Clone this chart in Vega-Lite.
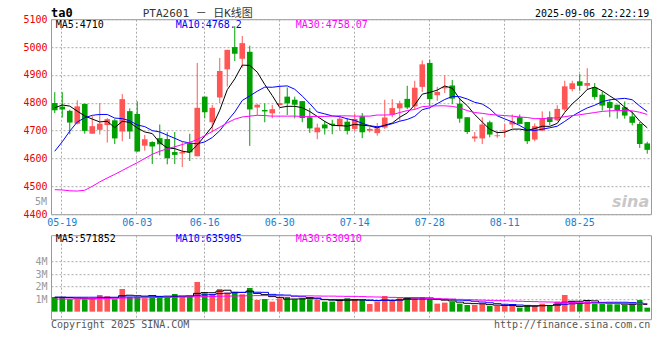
{
  "$schema": "https://vega.github.io/schema/vega-lite/v6.json",
  "background": "#ffffff",
  "padding": {"left": 22, "top": 5.2, "right": 5, "bottom": 2},
  "config": {
    "font": "DejaVu Sans Mono",
    "view": {"stroke": "#999999", "strokeWidth": 1},
    "axis": {"labelFont": "DejaVu Sans Mono", "labelFontSize": 10, "domain": false, "ticks": false, "gridColor": "#aaaaaa", "gridDash": [2, 2], "gridWidth": 1, "title": null, "labelOverlap": false},
    "text": {"font": "DejaVu Sans Mono", "fontSize": 10, "baseline": "middle"}
  },
  "datasets": {
    "k": [
      {"d":"05-16","o":4799,"h":4838,"l":4763,"c":4773,"v":1170000,"m5":4782,"m10":4626,"m30":4488,"vm5":1150000,"vm10":1150000,"vm30":1000000},
      {"d":"05-19","o":4786,"h":4838,"l":4747,"c":4776,"v":1170000,"m5":4792,"m10":4660,"m30":4487,"vm5":1150000,"vm10":1150000,"vm30":1010000},
      {"d":"05-20","o":4771,"h":4775,"l":4687,"c":4729,"v":990000,"m5":4788,"m10":4698,"m30":4484,"vm5":1120000,"vm10":1150000,"vm30":1010000},
      {"d":"05-21","o":4725,"h":4809,"l":4722,"c":4787,"v":990000,"m5":4770,"m10":4731,"m30":4483,"vm5":1080000,"vm10":1150000,"vm30":1020000},
      {"d":"05-22","o":4796,"h":4797,"l":4689,"c":4699,"v":990000,"m5":4752.8,"m10":4746,"m30":4486,"vm5":1060000,"vm10":1150000,"vm30":1030000},
      {"d":"05-23","o":4689,"h":4752,"l":4688,"c":4716,"v":990000,"m5":4741.4,"m10":4755,"m30":4500,"vm5":1030000,"vm10":1150000,"vm30":1040000},
      {"d":"05-26","o":4703,"h":4799,"l":4686,"c":4725,"v":1330000,"m5":4731.2,"m10":4758,"m30":4516,"vm5":1060000,"vm10":1150000,"vm30":1050000},
      {"d":"05-27","o":4720,"h":4745,"l":4657,"c":4741,"v":1230000,"m5":4733.6,"m10":4758,"m30":4530,"vm5":1110000,"vm10":1150000,"vm30":1060000},
      {"d":"05-28","o":4737,"h":4742,"l":4652,"c":4672,"v":990000,"m5":4710.6,"m10":4745,"m30":4543,"vm5":1110000,"vm10":1150000,"vm30":1070000},
      {"d":"05-29","o":4697,"h":4831,"l":4662,"c":4813,"v":1810000,"m5":4733.4,"m10":4743.1,"m30":4557,"vm5":1270000,"vm10":1170000,"vm30":1080000},
      {"d":"05-30","o":4770,"h":4780,"l":4670,"c":4697,"v":1170000,"m5":4729.6,"m10":4735.5,"m30":4571,"vm5":1310000,"vm10":1170000,"vm30":1090000},
      {"d":"06-03","o":4760,"h":4805,"l":4624,"c":4625,"v":1170000,"m5":4709.6,"m10":4720.4,"m30":4585,"vm5":1270000,"vm10":1170000,"vm30":1100000},
      {"d":"06-04","o":4646,"h":4685,"l":4628,"c":4669,"v":1070000,"m5":4695.2,"m10":4714.4,"m30":4600,"vm5":1240000,"vm10":1170000,"vm30":1110000},
      {"d":"06-05","o":4659,"h":4662,"l":4580,"c":4643,"v":1170000,"m5":4689.4,"m10":4700,"m30":4615,"vm5":1280000,"vm10":1190000,"vm30":1120000},
      {"d":"06-06","o":4673,"h":4722,"l":4611,"c":4651,"v":1250000,"m5":4657,"m10":4695.2,"m30":4626,"vm5":1170000,"vm10":1220000,"vm30":1130000},
      {"d":"06-09","o":4670,"h":4694,"l":4579,"c":4601,"v":1170000,"m5":4637.8,"m10":4683.7,"m30":4635,"vm5":1170000,"vm10":1240000,"vm30":1140000},
      {"d":"06-10","o":4623,"h":4695,"l":4580,"c":4613,"v":1410000,"m5":4635.4,"m10":4672.5,"m30":4642,"vm5":1210000,"vm10":1240000,"vm30":1150000},
      {"d":"06-11","o":4618,"h":4658,"l":4569,"c":4623,"v":1170000,"m5":4626.2,"m10":4660.7,"m30":4650,"vm5":1230000,"vm10":1240000,"vm30":1160000},
      {"d":"06-12","o":4655,"h":4689,"l":4591,"c":4622,"v":1170000,"m5":4622,"m10":4655.7,"m30":4658,"vm5":1230000,"vm10":1260000,"vm30":1170000},
      {"d":"06-13","o":4608,"h":4943,"l":4608,"c":4782,"v":2370000,"m5":4648.2,"m10":4652.6,"m30":4668,"vm5":1460000,"vm10":1310000,"vm30":1190000},
      {"d":"06-16","o":4822,"h":4822,"l":4744,"c":4766,"v":1470000,"m5":4681.2,"m10":4659.5,"m30":4682,"vm5":1520000,"vm10":1340000,"vm30":1200000},
      {"d":"06-17","o":4730,"h":4792,"l":4694,"c":4782,"v":1390000,"m5":4715,"m10":4675.2,"m30":4697,"vm5":1510000,"vm10":1360000,"vm30":1210000},
      {"d":"06-18","o":4819,"h":4961,"l":4799,"c":4914,"v":1810000,"m5":4773.2,"m10":4699.7,"m30":4712,"vm5":1640000,"vm10":1440000,"vm30":1230000},
      {"d":"06-19","o":4920,"h":4990,"l":4858,"c":4990,"v":1520000,"m5":4846.8,"m10":4734.4,"m30":4728,"vm5":1710000,"vm10":1470000,"vm30":1240000},
      {"d":"06-20","o":5000,"h":5075,"l":4950,"c":4976,"v":1570000,"m5":4885.6,"m10":4766.9,"m30":4741,"vm5":1550000,"vm10":1510000,"vm30":1250000},
      {"d":"06-23","o":4958,"h":5040,"l":4926,"c":5014,"v":1390000,"m5":4935.2,"m10":4808.2,"m30":4749,"vm5":1540000,"vm10":1530000,"vm30":1260000},
      {"d":"06-24","o":4983,"h":5005,"l":4645,"c":4776,"v":1890000,"m5":4934,"m10":4824.5,"m30":4752,"vm5":1640000,"vm10":1580000,"vm30":1270000},
      {"d":"06-25","o":4783,"h":4795,"l":4756,"c":4793,"v":930000,"m5":4909.8,"m10":4841.5,"m30":4755,"vm5":1460000,"vm10":1550000,"vm30":1280000},
      {"d":"06-26","o":4774,"h":4798,"l":4730,"c":4769,"v":1010000,"m5":4865.6,"m10":4856.2,"m30":4754,"vm5":1360000,"vm10":1540000,"vm30":1280000},
      {"d":"06-27","o":4762,"h":4792,"l":4744,"c":4777,"v":800000,"m5":4825.8,"m10":4855.7,"m30":4752,"vm5":1200000,"vm10":1380000,"vm30":1280000},
      {"d":"06-30","o":4792,"h":4862,"l":4790,"c":4799,"v":1070000,"m5":4782.8,"m10":4859,"m30":4752,"vm5":1140000,"vm10":1340000,"vm30":1280000},
      {"d":"07-01","o":4822,"h":4855,"l":4756,"c":4798,"v":1170000,"m5":4787.2,"m10":4860.6,"m30":4752,"vm5":1000000,"vm10":1320000,"vm30":1270000},
      {"d":"07-02","o":4811,"h":4822,"l":4744,"c":4793,"v":990000,"m5":4787.2,"m10":4848.5,"m30":4752,"vm5":1010000,"vm10":1230000,"vm30":1270000},
      {"d":"07-03","o":4806,"h":4806,"l":4730,"c":4745,"v":1070000,"m5":4782.4,"m10":4824,"m30":4751,"vm5":1020000,"vm10":1190000,"vm30":1260000},
      {"d":"07-04","o":4748,"h":4781,"l":4692,"c":4708,"v":990000,"m5":4768.6,"m10":4797.2,"m30":4751,"vm5":1060000,"vm10":1130000,"vm30":1260000},
      {"d":"07-07","o":4694,"h":4725,"l":4669,"c":4711,"v":930000,"m5":4751,"m10":4766.9,"m30":4751,"vm5":1030000,"vm10":1090000,"vm30":1250000},
      {"d":"07-08","o":4722,"h":4735,"l":4686,"c":4708,"v":800000,"m5":4733,"m10":4760.1,"m30":4751,"vm5":960000,"vm10":980000,"vm30":1240000},
      {"d":"07-09","o":4725,"h":4739,"l":4687,"c":4720,"v":800000,"m5":4718.4,"m10":4752.8,"m30":4752,"vm5":920000,"vm10":960000,"vm30":1240000},
      {"d":"07-10","o":4716,"h":4754,"l":4700,"c":4743,"v":930000,"m5":4718,"m10":4750.2,"m30":4753,"vm5":890000,"vm10":960000,"vm30":1230000},
      {"d":"07-11","o":4732,"h":4745,"l":4686,"c":4699,"v":1070000,"m5":4716.2,"m10":4742.4,"m30":4753,"vm5":910000,"vm10":980000,"vm30":1220000},
      {"d":"07-14","o":4706,"h":4760,"l":4697,"c":4742,"v":990000,"m5":4722.4,"m10":4736.7,"m30":4752,"vm5":920000,"vm10":970000,"vm30":1220000},
      {"d":"07-15","o":4751,"h":4763,"l":4673,"c":4694,"v":930000,"m5":4719.6,"m10":4726.3,"m30":4752,"vm5":940000,"vm10":950000,"vm30":1200000},
      {"d":"07-16","o":4700,"h":4712,"l":4694,"c":4706,"v":610000,"m5":4716.8,"m10":4717.6,"m30":4752,"vm5":910000,"vm10":910000,"vm30":1180000},
      {"d":"07-17","o":4691,"h":4727,"l":4682,"c":4708,"v":800000,"m5":4709.8,"m10":4713.9,"m30":4756,"vm5":880000,"vm10":890000,"vm30":1170000},
      {"d":"07-18","o":4711,"h":4811,"l":4706,"c":4747,"v":1250000,"m5":4719.4,"m10":4717.8,"m30":4756,"vm5":920000,"vm10":910000,"vm30":1150000},
      {"d":"07-21","o":4758,"h":4813,"l":4748,"c":4781,"v":930000,"m5":4727.2,"m10":4724.8,"m30":4757,"vm5":900000,"vm10":910000,"vm30":1140000},
      {"d":"07-22","o":4780,"h":4807,"l":4736,"c":4798,"v":1070000,"m5":4748,"m10":4733.8,"m30":4765,"vm5":930000,"vm10":940000,"vm30":1130000},
      {"d":"07-23","o":4814,"h":4861,"l":4777,"c":4783,"v":1170000,"m5":4763.4,"m10":4740.1,"m30":4772,"vm5":1040000,"vm10":980000,"vm30":1120000},
      {"d":"07-24","o":4787,"h":4879,"l":4777,"c":4854,"v":1070000,"m5":4792.6,"m10":4751.2,"m30":4776,"vm5":1100000,"vm10":990000,"vm30":1100000},
      {"d":"07-25","o":4857,"h":4952,"l":4839,"c":4938,"v":1170000,"m5":4830.8,"m10":4775.1,"m30":4786,"vm5":1080000,"vm10":1000000,"vm30":1080000},
      {"d":"07-28","o":4943,"h":4955,"l":4789,"c":4813,"v":990000,"m5":4837.2,"m10":4782.2,"m30":4788,"vm5":1090000,"vm10":1000000,"vm30":1060000},
      {"d":"07-29","o":4827,"h":4857,"l":4807,"c":4839,"v":640000,"m5":4845.4,"m10":4796.7,"m30":4789,"vm5":1010000,"vm10":970000,"vm30":1040000},
      {"d":"07-30","o":4852,"h":4899,"l":4835,"c":4857,"v":720000,"m5":4860.2,"m10":4811.8,"m30":4789,"vm5":920000,"vm10":980000,"vm30":1020000},
      {"d":"07-31","o":4862,"h":4882,"l":4795,"c":4815,"v":800000,"m5":4852.4,"m10":4822.5,"m30":4787,"vm5":860000,"vm10":980000,"vm30":1000000},
      {"d":"08-01","o":4797,"h":4817,"l":4728,"c":4743,"v":640000,"m5":4813.4,"m10":4822.1,"m30":4782,"vm5":760000,"vm10":920000,"vm30":980000},
      {"d":"08-04","o":4748,"h":4748,"l":4688,"c":4695,"v":530000,"m5":4789.8,"m10":4813.5,"m30":4772,"vm5":670000,"vm10":880000,"vm30":960000},
      {"d":"08-05","o":4672,"h":4695,"l":4660,"c":4679,"v":530000,"m5":4757.8,"m10":4801.6,"m30":4765,"vm5":640000,"vm10":830000,"vm30":940000},
      {"d":"08-06","o":4672,"h":4748,"l":4652,"c":4722,"v":640000,"m5":4730.8,"m10":4795.5,"m30":4762,"vm5":630000,"vm10":770000,"vm30":920000},
      {"d":"08-07","o":4730,"h":4736,"l":4676,"c":4686,"v":450000,"m5":4705,"m10":4778.7,"m30":4758,"vm5":560000,"vm10":710000,"vm30":900000},
      {"d":"08-08","o":4680,"h":4698,"l":4674,"c":4683,"v":450000,"m5":4693,"m10":4753.2,"m30":4756,"vm5":520000,"vm10":640000,"vm30":880000},
      {"d":"08-11","o":4698,"h":4725,"l":4676,"c":4701,"v":450000,"m5":4694.2,"m10":4742,"m30":4754,"vm5":500000,"vm10":590000,"vm30":870000},
      {"d":"08-12","o":4722,"h":4758,"l":4710,"c":4734,"v":450000,"m5":4705.2,"m10":4731.5,"m30":4752,"vm5":490000,"vm10":570000,"vm30":850000},
      {"d":"08-13","o":4748,"h":4758,"l":4722,"c":4724,"v":320000,"m5":4705.6,"m10":4718.2,"m30":4749,"vm5":420000,"vm10":530000,"vm30":830000},
      {"d":"08-14","o":4731,"h":4731,"l":4652,"c":4662,"v":510000,"m5":4700.8,"m10":4702.9,"m30":4747,"vm5":440000,"vm10":500000,"vm30":810000},
      {"d":"08-15","o":4668,"h":4726,"l":4662,"c":4716,"v":450000,"m5":4707.4,"m10":4700.2,"m30":4743,"vm5":440000,"vm10":480000,"vm30":800000},
      {"d":"08-18","o":4700,"h":4769,"l":4698,"c":4743,"v":640000,"m5":4715.8,"m10":4705,"m30":4743,"vm5":470000,"vm10":490000,"vm30":780000},
      {"d":"08-19","o":4748,"h":4769,"l":4719,"c":4731,"v":530000,"m5":4715.2,"m10":4710.2,"m30":4745,"vm5":490000,"vm10":490000,"vm30":770000},
      {"d":"08-20","o":4737,"h":4791,"l":4734,"c":4778,"v":800000,"m5":4726,"m10":4715.8,"m30":4746,"vm5":590000,"vm10":510000,"vm30":750000},
      {"d":"08-21","o":4776,"h":4879,"l":4769,"c":4859,"v":1330000,"m5":4765.4,"m10":4733.1,"m30":4750,"vm5":750000,"vm10":590000,"vm30":740000},
      {"d":"08-22","o":4849,"h":4879,"l":4841,"c":4870,"v":850000,"m5":4796.2,"m10":4751.8,"m30":4754,"vm5":830000,"vm10":630000,"vm30":730000},
      {"d":"08-25","o":4877,"h":4903,"l":4843,"c":4861,"v":640000,"m5":4819.8,"m10":4767.8,"m30":4757,"vm5":830000,"vm10":650000,"vm30":720000},
      {"d":"08-26","o":4861,"h":4924,"l":4846,"c":4871,"v":850000,"m5":4847.8,"m10":4781.5,"m30":4761,"vm5":890000,"vm10":690000,"vm30":710000},
      {"d":"08-27","o":4855,"h":4871,"l":4811,"c":4821,"v":640000,"m5":4856.4,"m10":4791.2,"m30":4765,"vm5":860000,"vm10":720000,"vm30":690000},
      {"d":"08-28","o":4829,"h":4841,"l":4772,"c":4790,"v":640000,"m5":4842.6,"m10":4804,"m30":4769,"vm5":720000,"vm10":740000,"vm30":680000},
      {"d":"08-29","o":4803,"h":4811,"l":4748,"c":4781,"v":590000,"m5":4824.8,"m10":4810.5,"m30":4771,"vm5":670000,"vm10":750000,"vm30":670000},
      {"d":"09-01","o":4793,"h":4793,"l":4743,"c":4774,"v":590000,"m5":4807.4,"m10":4813.6,"m30":4772,"vm5":660000,"vm10":750000,"vm30":660000},
      {"d":"09-02","o":4784,"h":4805,"l":4743,"c":4754,"v":530000,"m5":4784,"m10":4815.9,"m30":4772,"vm5":600000,"vm10":750000,"vm30":650000},
      {"d":"09-03","o":4751,"h":4769,"l":4719,"c":4728,"v":530000,"m5":4765.4,"m10":4810.9,"m30":4771,"vm5":580000,"vm10":720000,"vm30":640000},
      {"d":"09-04","o":4724,"h":4731,"l":4638,"c":4652,"v":930000,"m5":4733.8,"m10":4788.2,"m30":4766,"vm5":630000,"vm10":680000,"vm30":640000},
      {"d":"09-05","o":4654,"h":4660,"l":4617,"c":4631,"v":320000,"m5":4710,"m10":4768.2,"m30":4758.07,"vm5":571852,"vm10":635905,"vm30":630910}
    ]
  },
  "bounds": "flush",
  "spacing": 21,
  "resolve": {"scale": {"y": "independent"}},
  "vconcat": [
    {
      "width": 600,
      "height": 195,
      "data": {"name": "k"},
      "encoding": {
        "x": {"field": "d", "type": "ordinal", "sort": null, "scale": {"paddingInner": 0, "paddingOuter": 0},
          "axis": {"values": ["05-19","06-03","06-16","06-30","07-14","07-28","08-11","08-25"], "labelAngle": 0, "labelColor": "#1a80d0", "labelPadding": 3, "grid": true, "bandPosition": 0.4, "title": null}}
      },
      "layer": [
        {"mark": {"type": "rule", "strokeWidth": 1},
         "encoding": {
           "y": {"field": "l", "type": "quantitative", "scale": {"domain": [4400, 5100], "nice": false, "zero": false},
             "axis": {"values": [4400,4500,4600,4700,4800,4900,5000,5100], "tickCount": 20, "format": "d", "labelColor": "#ee0000", "labelPadding": 4, "grid": true, "labelFlush": false, "labelOverlap": false, "title": null}},
           "y2": {"field": "h"},
           "color": {"condition": {"test": "datum.c > datum.o", "value": "#ff5555"}, "value": "#00a000"}}},
        {"mark": {"type": "bar", "width": {"band": 0.75}},
         "encoding": {
           "y": {"field": "o", "type": "quantitative"},
           "y2": {"field": "c"},
           "color": {"condition": {"test": "datum.c > datum.o", "value": "#ff5555"}, "value": "#00a000"}}},
        {"mark": {"type": "line", "color": "#000000", "strokeWidth": 1}, "encoding": {"y": {"field": "m5", "type": "quantitative"}}},
        {"mark": {"type": "line", "color": "#0000ff", "strokeWidth": 1}, "encoding": {"y": {"field": "m10", "type": "quantitative"}}},
        {"mark": {"type": "line", "color": "#ff00ff", "strokeWidth": 1}, "encoding": {"y": {"field": "m30", "type": "quantitative"}}},
        {"data": {"values": [{}]}, "mark": {"type": "text", "align": "left", "dx": 1, "color": "#000000"},
         "encoding": {"x": {"datum": "05-16"}, "y": {"datum": 5080}, "text": {"value": "MA5:4710"}}},
        {"data": {"values": [{}]}, "mark": {"type": "text", "align": "left", "dx": 1, "color": "#0000ff"},
         "encoding": {"x": {"datum": "06-10"}, "y": {"datum": 5080}, "text": {"value": "MA10:4768.2"}}},
        {"data": {"values": [{}]}, "mark": {"type": "text", "align": "left", "dx": 1, "color": "#ff00ff"},
         "encoding": {"x": {"datum": "07-02"}, "y": {"datum": 5080}, "text": {"value": "MA30:4758.07"}}},
        {"data": {"values": [{}]}, "mark": {"type": "text", "align": "left", "dx": -3.75, "fontSize": 12, "fontWeight": "bold", "color": "#000000"},
         "encoding": {"x": {"datum": "05-16"}, "y": {"datum": 5124}, "text": {"value": "ta0"}}},
        {"data": {"values": [{}]}, "mark": {"type": "text", "align": "left", "dx": -2, "fontSize": 11, "color": "#333333", "font": "DejaVu Sans Mono, Noto Sans CJK SC"},
         "encoding": {"x": {"datum": "06-04"}, "y": {"datum": 5120}, "text": {"value": "PTA2601 － 日K线图"}}},
        {"data": {"values": [{}]}, "mark": {"type": "text", "align": "right", "dx": 2, "fontSize": 10, "color": "#000000"},
         "encoding": {"x": {"datum": "09-05"}, "y": {"datum": 5117}, "text": {"value": "2025-09-06 22:22:19"}}},
        {"data": {"values": [{}]}, "mark": {"type": "text", "align": "right", "dx": -7.75, "fontSize": 10, "color": "#999999"},
         "encoding": {"x": {"datum": "05-16"}, "y": {"datum": 4444}, "text": {"value": "5M"}}},
        {"data": {"values": [{}]}, "mark": {"type": "text", "align": "right", "dx": 2, "fontSize": 16, "fontStyle": "italic", "fontWeight": "bold", "font": "DejaVu Sans", "color": "#c8c8c8"},
         "encoding": {"x": {"datum": "09-05"}, "y": {"datum": 4442}, "text": {"value": "sina"}}}
      ]
    },
    {
      "width": 600,
      "height": 84,
      "data": {"name": "k"},
      "encoding": {
        "x": {"field": "d", "type": "ordinal", "sort": null, "scale": {"paddingInner": 0, "paddingOuter": 0},
          "axis": {"values": ["05-19","06-03","06-16","06-30","07-14","07-28","08-11","08-25"], "labels": false, "grid": true, "bandPosition": 0.4, "title": null}}
      },
      "layer": [
        {"mark": {"type": "bar", "width": {"band": 0.75}},
         "encoding": {
           "y": {"field": "v", "type": "quantitative", "scale": {"domain": [-600000, 6100000], "nice": false, "zero": false},
             "axis": {"values": [1000000, 2000000, 3000000, 4000000], "tickCount": 20, "labelExpr": "(datum.value / 1000000) + 'M'", "labelColor": "#999999", "labelPadding": 4, "grid": true, "labelOverlap": false, "title": null}},
           "y2": {"datum": 0},
           "color": {"condition": {"test": "datum.c > datum.o", "value": "#ff5555"}, "value": "#00a000"}}},
        {"mark": {"type": "line", "color": "#000000", "strokeWidth": 1, "interpolate": "step"}, "encoding": {"y": {"field": "vm5", "type": "quantitative"}}},
        {"mark": {"type": "line", "color": "#0000ff", "strokeWidth": 1, "interpolate": "step"}, "encoding": {"y": {"field": "vm10", "type": "quantitative"}}},
        {"mark": {"type": "line", "color": "#ff00ff", "strokeWidth": 1, "interpolate": "step"}, "encoding": {"y": {"field": "vm30", "type": "quantitative"}}},
        {"data": {"values": [{}]}, "mark": {"type": "text", "align": "left", "dx": 1, "color": "#000000"},
         "encoding": {"x": {"datum": "05-16"}, "y": {"datum": 5760000}, "text": {"value": "MA5:571852"}}},
        {"data": {"values": [{}]}, "mark": {"type": "text", "align": "left", "dx": 1, "color": "#0000ff"},
         "encoding": {"x": {"datum": "06-10"}, "y": {"datum": 5760000}, "text": {"value": "MA10:635905"}}},
        {"data": {"values": [{}]}, "mark": {"type": "text", "align": "left", "dx": 1, "color": "#ff00ff"},
         "encoding": {"x": {"datum": "07-02"}, "y": {"datum": 5760000}, "text": {"value": "MA30:630910"}}},
        {"data": {"values": [{}]}, "mark": {"type": "text", "align": "left", "dx": -3.75, "color": "#555555"},
         "encoding": {"x": {"datum": "05-16"}, "y": {"datum": -1040000}, "text": {"value": "Copyright 2025 SINA.COM"}}},
        {"data": {"values": [{}]}, "mark": {"type": "text", "align": "right", "dx": 3, "color": "#555555"},
         "encoding": {"x": {"datum": "09-05"}, "y": {"datum": -1040000}, "text": {"value": "http://finance.sina.com.cn"}}}
      ]
    }
  ]
}
